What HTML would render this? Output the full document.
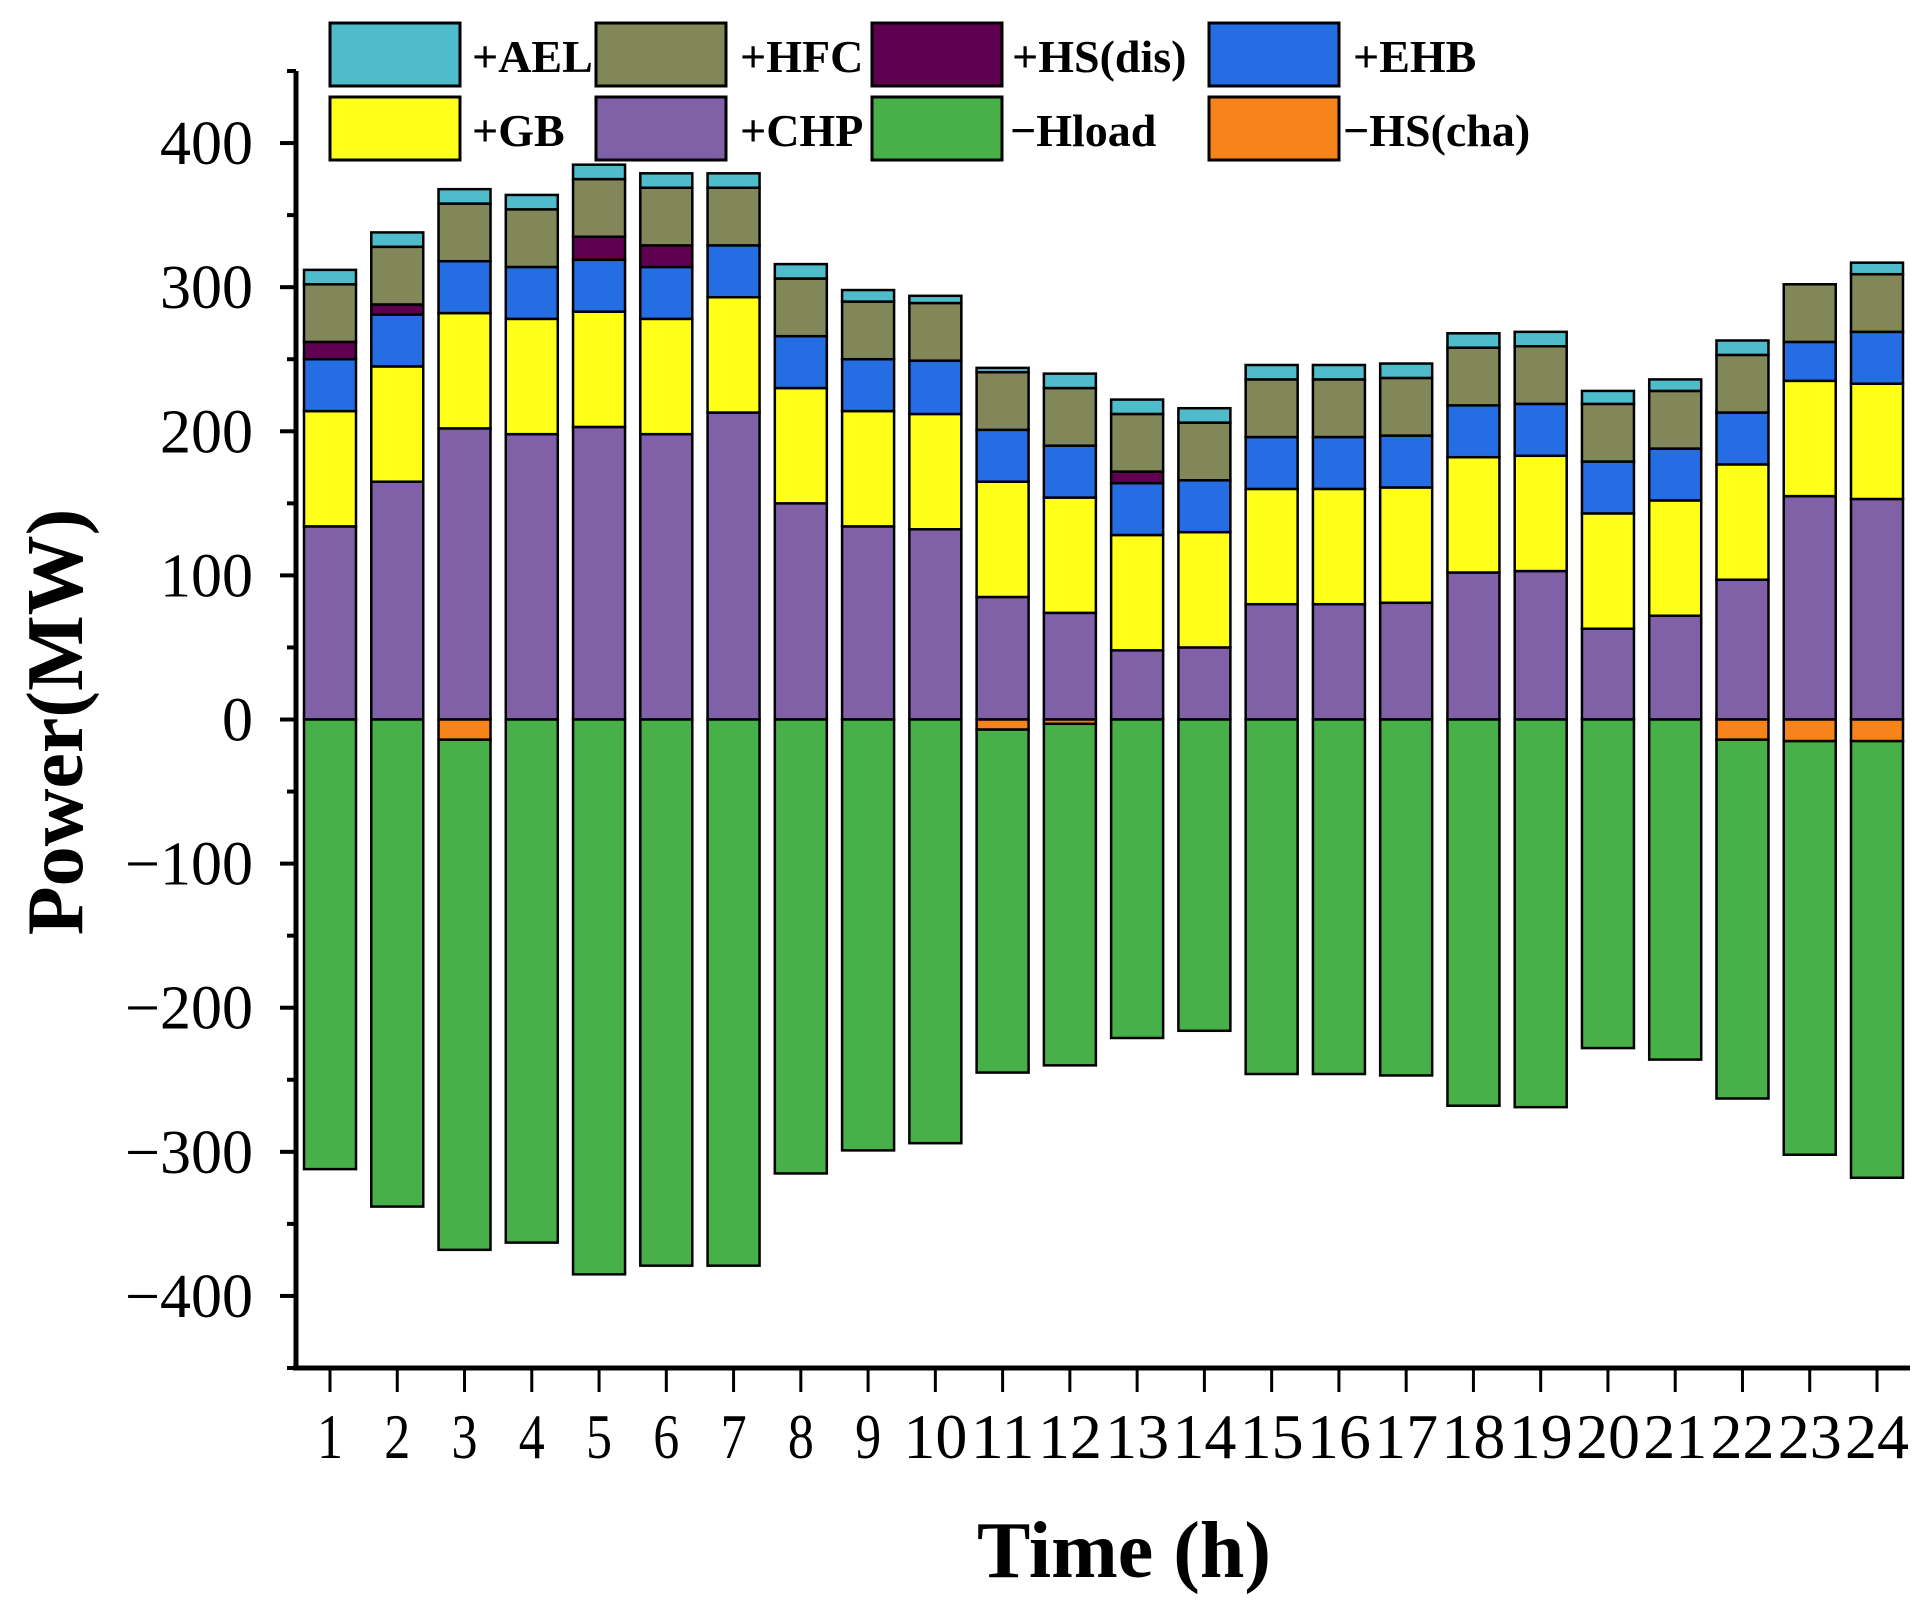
<!DOCTYPE html>
<html><head><meta charset="utf-8"><style>
html,body{margin:0;padding:0;background:#fff;}
svg{display:block;font-family:"Liberation Serif",serif;}
</style></head><body>
<svg id="chart" width="1928" height="1600" viewBox="0 0 1928 1600" xmlns="http://www.w3.org/2000/svg"></svg>
<script>
const hours=[1,2,3,4,5,6,7,8,9,10,11,12,13,14,15,16,17,18,19,20,21,22,23,24];
const chp=[134,165,202,198,203,198,213,150,134,132,85,74,48,50,80,80,81,102,103,63,72,97,155,153];
const gb=[80,80,80,80,80,80,80,80,80,80,80,80,80,80,80,80,80,80,80,80,80,80,80,80];
const ehb=[36,36,36,36,36,36,36,36,36,37,36,36,36,36,36,36,36,36,36,36,36,36,27,36];
const hsDis=[12,7,0,0,16,15,0,0,0,0,0,0,8,0,0,0,0,0,0,0,0,0,0,0];
const hfc=[40,40,40,40,40,40,40,40,40,40,40,40,40,40,40,40,40,40,40,40,40,40,40,40];
const ael=[10,10,10,10,10,10,10,10,8,5,3,10,10,10,10,10,10,10,10,9,8,10,0,8];
const hsCha=[0,0,14,0,0,0,0,0,0,0,7,3,0,0,0,0,0,0,0,0,0,14,15,15];
const hload=[312,338,354,363,385,379,379,315,299,294,238,237,221,216,246,246,247,268,269,228,236,249,287,303];
const yTicks=[-400,-300,-200,-100,0,100,200,300,400];

const svg=document.getElementById('chart');
const NS='http://www.w3.org/2000/svg';
function mk(tag,attrs,parent){const e=document.createElementNS(NS,tag);for(const k in attrs)e.setAttribute(k,attrs[k]);(parent||svg).appendChild(e);return e;}
const x0=296,x1=1910,yTop=71,yBot=1368;
const yMin=-450,yMax=450;
function yS(v){return yBot-(v-yMin)/(yMax-yMin)*(yBot-yTop);}
function xS(i){return 330+i*(1877-330)/23;}
const bw=52;
const posSeries=[["chp",chp,"#8061A8"],["gb",gb,"#FFFF1A"],["ehb",ehb,"#246DE3"],["hs-dis",hsDis,"#600050"],["hfc",hfc,"#82875A"],["ael",ael,"#4EBCCB"]];
const gBars=mk('g',{});


hours.forEach((h,i)=>{
  const cx=xS(i);let acc=0;
  posSeries.forEach(([nm,arr,col])=>{
    const v=arr[i];if(v<=0)return;
    const r=mk('rect',{x:cx-bw/2,y:yS(acc+v),width:bw,height:yS(acc)-yS(acc+v),fill:col,stroke:'#000','stroke-width':2.5},gBars);
    
    
    acc+=v;
  });
  let neg=0;
  [["hs-cha",hsCha,"#F7841B"],["hload",hload,"#47B049"]].forEach(([nm,arr,col])=>{
    const v=arr[i];if(v<=0)return;
    const r=mk('rect',{x:cx-bw/2,y:yS(-neg),width:bw,height:yS(-neg-v)-yS(-neg),fill:col,stroke:'#000','stroke-width':2.5},gBars);
    
    
    neg+=v;
  });
});
const yAx=mk('line',{x1:x0,y1:yTop,x2:x0,y2:yBot+2,stroke:'#000','stroke-width':5});


const xAx=mk('line',{x1:x0-3,y1:yBot,x2:x1,y2:yBot,stroke:'#000','stroke-width':5});


for(let v=-450;v<=450;v+=50){
  const major=v%100===0;
  mk('line',{x1:x0-(major?16:9),y1:yS(v),x2:x0,y2:yS(v),stroke:'#000','stroke-width':4});
}
yTicks.forEach(v=>{
  const t=mk('text',{x:253,y:yS(v)+21,'text-anchor':'end','font-size':62});
  t.textContent=v<0?'\u2212'+Math.abs(v):String(v);
  
  
});
hours.forEach((h,i)=>{
  mk('line',{x1:xS(i),y1:yBot,x2:xS(i),y2:yBot+24,stroke:'#000','stroke-width':3});
  const t=mk('text',{x:xS(i),y:1458,'text-anchor':'middle','font-size':64});
  t.setAttribute('textLength',h>=10?64:26);
  t.setAttribute('lengthAdjust','spacingAndGlyphs');
  t.textContent=String(h);
  
  
});
const xt=mk('text',{x:1124,y:1577,'text-anchor':'middle','font-size':80,'font-weight':'bold'});
xt.textContent='Time (h)';


const yt=mk('text',{x:0,y:0,'text-anchor':'middle','font-size':80,'font-weight':'bold',transform:'translate(82,722) rotate(-90)'});
yt.textContent='Power(MW)';


const legendItems=[["+AEL","#4EBCCB",330,23,472],["+HFC","#82875A",596,23,740],["+HS(dis)","#600050",872,23,1012],["+EHB","#246DE3",1209,23,1353],
["+GB","#FFFF1A",330,97,472],["+CHP","#8061A8",596,97,740],["\u2212Hload","#47B049",872,97,1010],["\u2212HS(cha)","#F7841B",1209,97,1343]];
legendItems.forEach(([lab,col,bx,by,tx])=>{
  const g=mk('g',{});
  
  
  mk('rect',{x:bx,y:by,width:130,height:63,fill:col,stroke:'#000','stroke-width':3},g);
  const t=mk('text',{x:tx,y:by+49,'font-size':46,'font-weight':'bold'},g);
  t.textContent=lab;
});
</script>
</body></html>
